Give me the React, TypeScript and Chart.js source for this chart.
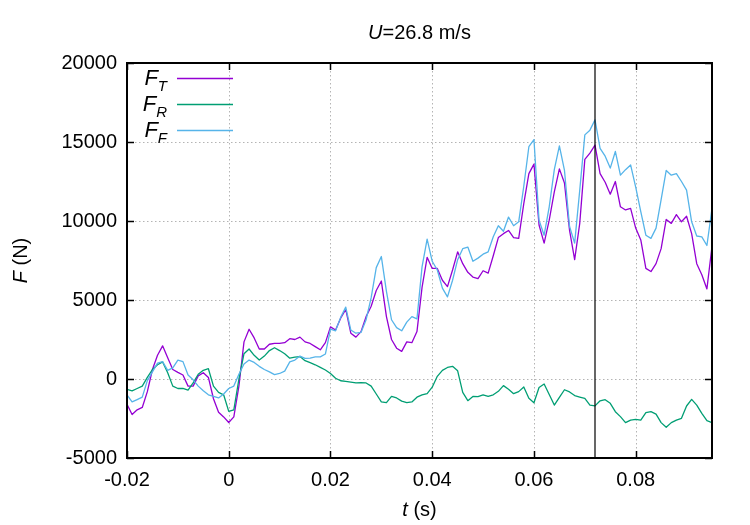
import { useEffect, useRef } from "react";
import { Chart, registerables } from "chart.js";

Chart.register(...registerables);

// Sampling grid of the force records (seconds)
const T_START = -0.02;
const T_STEP = 0.001;

// Total force F_T (N)
const F_T = [
  -1600, -2250, -1950, -1800, -800, 600, 1500, 2100, 1350, 600,
  420, 250, -450, -450, 200, 400, 100, -1250, -2100, -2400,
  -2750, -2400, -450, 2350, 3150, 2600, 1900, 1900, 2200, 2250,
  2250, 2300, 2550, 2500, 2650, 2350, 2250, 2050, 1850, 2300,
  3300, 3100, 3850, 4400, 2900, 2650, 3000, 3950, 4600, 5600,
  6200, 3950, 2500, 1950, 1750, 2350, 2300, 3000, 5800, 7700,
  7000, 7000, 6250, 5850, 6900, 8050, 7300, 6750, 6450, 6350,
  6850, 6700, 7800, 8950, 9200, 9400, 8950, 8900, 11100, 13000,
  13600, 9750, 8600, 10050, 11850, 13300, 12400, 9400, 7550, 9850,
  13900, 14300, 14800, 13000, 12450, 11700, 12500, 10900, 10700, 10800,
  9550, 8800, 7000, 6800, 7300, 8250, 10100, 9850, 10400, 9950,
  10300, 9200, 7300, 6600, 5700, 8400,
];

// Rear force F_R (N)
const F_R = [
  -650, -750, -600, -450, 100, 600, 900, 1080, 400, -450,
  -600, -600, -700, -250, 300, 550, 650, -450, -850, -1000,
  -2050, -1950, 0, 1600, 1900, 1500, 1200, 1450, 1800, 1980,
  1800, 1600, 1320, 1380, 1420, 1160, 1030, 900, 740, 570,
  350, 50, -110, -150, -200, -250, -230, -250, -450, -950,
  -1450, -1500, -1100, -1200, -1400, -1500, -1450, -1150, -1000, -920,
  -520, 170, 550, 730, 800, 520, -850, -1370, -1100, -1120,
  -1000, -1100, -1000, -780, -420, -650, -930, -800, -510, -1220,
  -1500, -540, -320, -980, -1650, -1170, -680, -820, -1050, -1140,
  -1230, -1650, -1700, -1380, -1310, -1540, -2070, -2380, -2760, -2600,
  -2550, -2600, -2130, -2070, -2220, -2760, -3060, -2760, -2600, -2490,
  -1710, -1290, -1650, -2170, -2640, -2760,
];

// Front force F_F (N)
const F_F = [
  -1000, -1450, -1300, -1150, -100, 450, 1000, 1100, 550, 700,
  1200, 1100, 250, -50, -450, -750, -1000, -1100, -1200, -950,
  -600, -450, 300, 950, 1200, 1050, 800, 600, 450, 280,
  350, 500, 1080, 1200, 1450, 1300, 1320, 1400, 1400, 1580,
  3150, 3050, 3900, 4550, 3100, 2900, 2950, 3750, 5150, 7050,
  7750, 5550, 3750, 3250, 3050, 3600, 3950, 3800, 7100, 8850,
  7450, 6900, 5750, 5200, 6250, 7550, 8250, 8350, 7450, 7650,
  7900, 8050, 9000, 9700, 9350, 10250, 9700, 9950, 12200, 14700,
  15150, 10050, 9100, 10900, 13250, 14750, 13200, 9650, 8600, 11950,
  15450, 15750, 16400, 14600, 14100, 13350, 14400, 12900, 13250, 13550,
  12150, 10600, 9100, 8900, 9550, 11350, 13200, 12900, 13000, 12500,
  11950, 9950, 9050, 9000, 8450, 10800,
];

// Instant marked by the vertical line (s)
const MARKER_T = 0.072;

const X_MIN = -0.02;
const X_MAX = 0.095;
const Y_MIN = -5000;
const Y_MAX = 20000;
const X_TICKS = [-0.02, 0, 0.02, 0.04, 0.06, 0.08];
const X_TICK_LABELS = ["-0.02", "0", "0.02", "0.04", "0.06", "0.08"];
const Y_TICKS = [-5000, 0, 5000, 10000, 15000, 20000];
const Y_TICK_LABELS = ["-5000", "0", "5000", "10000", "15000", "20000"];

const SPEED_LABEL = "=26.8 m/s";

const COLOR_T = "#9400d3";
const COLOR_R = "#009e73";
const COLOR_F = "#56b4e9";

const FONT = "'Liberation Sans', Arial, Helvetica, sans-serif";

type Run = { text: string; italic?: boolean; size?: number; dy?: number };

const fontOf = (r: Run) => `${r.italic ? "italic " : ""}${r.size ?? 20}px ${FONT}`;

function runsWidth(ctx: CanvasRenderingContext2D, runs: Run[]) {
  let w = 0;
  for (const r of runs) {
    ctx.font = fontOf(r);
    w += ctx.measureText(r.text).width;
  }
  return w;
}

function drawRuns(ctx: CanvasRenderingContext2D, runs: Run[], x: number, y: number) {
  let cx = x;
  for (const r of runs) {
    ctx.font = fontOf(r);
    ctx.fillText(r.text, cx, y + (r.dy ?? 0));
    cx += ctx.measureText(r.text).width;
  }
}

const toPoints = (vals: number[]) =>
  vals.map((y, i) => ({ x: Math.round((T_START + i * T_STEP) * 10000) / 10000, y }));

const LEGEND = [
  { sub: "T", color: COLOR_T },
  { sub: "R", color: COLOR_R },
  { sub: "F", color: COLOR_F },
];

const framePlugin = {
  id: "gnuplotFrame",
  beforeDatasetsDraw(chart: any) {
    const { ctx, chartArea: a, scales } = chart;
    const xs = scales.x;
    const ys = scales.y;
    ctx.save();
    ctx.strokeStyle = "#b4b4b4";
    ctx.lineWidth = 1;
    ctx.setLineDash([1.5, 2.5]);
    ctx.beginPath();
    for (const v of X_TICKS) {
      const px = Math.round(xs.getPixelForValue(v)) + 0.5;
      ctx.moveTo(px, a.top);
      ctx.lineTo(px, a.bottom);
    }
    for (const v of Y_TICKS) {
      const py = Math.round(ys.getPixelForValue(v)) + 0.5;
      ctx.moveTo(a.left, py);
      ctx.lineTo(a.right, py);
    }
    ctx.stroke();
    ctx.restore();
  },
  afterDatasetsDraw(chart: any) {
    const { ctx, chartArea: a, scales } = chart;
    const xs = scales.x;
    const ys = scales.y;
    const tick = 7;
    ctx.save();
    ctx.strokeStyle = "#000";
    ctx.lineWidth = 1.5;
    ctx.beginPath();
    for (const v of X_TICKS) {
      const px = Math.round(xs.getPixelForValue(v)) + 0.5;
      ctx.moveTo(px, a.bottom);
      ctx.lineTo(px, a.bottom - tick);
      ctx.moveTo(px, a.top);
      ctx.lineTo(px, a.top + tick);
    }
    for (const v of Y_TICKS) {
      const py = Math.round(ys.getPixelForValue(v)) + 0.5;
      ctx.moveTo(a.left, py);
      ctx.lineTo(a.left + tick, py);
      ctx.moveTo(a.right, py);
      ctx.lineTo(a.right - tick, py);
    }
    ctx.stroke();
    ctx.lineWidth = 2;
    ctx.strokeRect(a.left, a.top, a.right - a.left, a.bottom - a.top);
    ctx.restore();
  },
  afterDraw(chart: any) {
    const { ctx, chartArea: a } = chart;
    const cx = (a.left + a.right) / 2;
    ctx.save();
    ctx.fillStyle = "#000";
    ctx.textBaseline = "alphabetic";
    ctx.textAlign = "left";

    const title: Run[] = [{ text: "U", italic: true }, { text: SPEED_LABEL }];
    drawRuns(ctx, title, cx - runsWidth(ctx, title) / 2, 39);

    const xTitle: Run[] = [{ text: "t", italic: true }, { text: " (s)" }];
    drawRuns(ctx, xTitle, cx - runsWidth(ctx, xTitle) / 2, 516);

    const yTitle: Run[] = [{ text: "F", italic: true }, { text: " (N)" }];
    ctx.save();
    ctx.translate(27, (a.top + a.bottom) / 2);
    ctx.rotate(-Math.PI / 2);
    drawRuns(ctx, yTitle, -runsWidth(ctx, yTitle) / 2, 0);
    ctx.restore();

    LEGEND.forEach((item, i) => {
      const base = 85 + i * 26;
      const runs: Run[] = [
        { text: "F", italic: true, size: 22 },
        { text: item.sub, italic: true, size: 15, dy: 6 },
      ];
      drawRuns(ctx, runs, 167 - runsWidth(ctx, runs), base);
      ctx.strokeStyle = item.color;
      ctx.lineWidth = 1.3;
      ctx.beginPath();
      ctx.moveTo(177, base - 6.5);
      ctx.lineTo(233, base - 6.5);
      ctx.stroke();
    });
    ctx.restore();
  },
};

export default function App() {
  const canvasRef = useRef<HTMLCanvasElement | null>(null);

  useEffect(() => {
    if (!canvasRef.current) return;
    const lineStyle = {
      borderWidth: 1.3,
      pointRadius: 0,
      tension: 0,
      fill: false,
      borderJoinStyle: "round" as const,
    };
    const chart = new Chart(canvasRef.current, {
      type: "line",
      data: {
        datasets: [
          { label: "F_T", data: toPoints(F_T), borderColor: COLOR_T, order: 4, ...lineStyle },
          { label: "F_R", data: toPoints(F_R), borderColor: COLOR_R, order: 3, ...lineStyle },
          { label: "F_F", data: toPoints(F_F), borderColor: COLOR_F, order: 2, ...lineStyle },
          {
            label: "marker",
            data: [
              { x: MARKER_T, y: Y_MIN },
              { x: MARKER_T, y: Y_MAX },
            ],
            borderColor: "#000",
            borderWidth: 1.2,
            pointRadius: 0,
            order: 1,
          },
        ],
      },
      options: {
        animation: false,
        responsive: false,
        maintainAspectRatio: false,
        parsing: false,
        layout: { padding: { left: 0, right: 38, top: 63, bottom: 0 } },
        plugins: {
          legend: { display: false },
          tooltip: { enabled: false },
          title: { display: false },
        },
        scales: {
          x: {
            type: "linear",
            min: X_MIN,
            max: X_MAX,
            grid: { display: false, drawTicks: false },
            border: { display: false },
            afterBuildTicks: (scale: any) => {
              scale.ticks = X_TICKS.map((value) => ({ value }));
            },
            afterFit: (scale: any) => {
              scale.height = 67;
            },
            ticks: {
              autoSkip: false,
              maxRotation: 0,
              padding: 10,
              color: "#000",
              font: { family: FONT, size: 20 },
              callback: (_v: any, i: number) => X_TICK_LABELS[i],
            },
          },
          y: {
            type: "linear",
            min: Y_MIN,
            max: Y_MAX,
            grid: { display: false, drawTicks: false },
            border: { display: false },
            afterBuildTicks: (scale: any) => {
              scale.ticks = Y_TICKS.map((value) => ({ value }));
            },
            afterFit: (scale: any) => {
              scale.width = 127;
            },
            ticks: {
              autoSkip: false,
              padding: 10,
              color: "#000",
              font: { family: FONT, size: 20 },
              callback: (_v: any, i: number) => Y_TICK_LABELS[i],
            },
          },
        },
      },
      plugins: [framePlugin],
    });
    return () => chart.destroy();
  }, []);

  return (
    <div style={{ position: "fixed", left: 0, top: 0, width: 750, height: 525, background: "#fff" }}>
      <canvas ref={canvasRef} width={750} height={525} style={{ width: 750, height: 525 }} />
    </div>
  );
}
